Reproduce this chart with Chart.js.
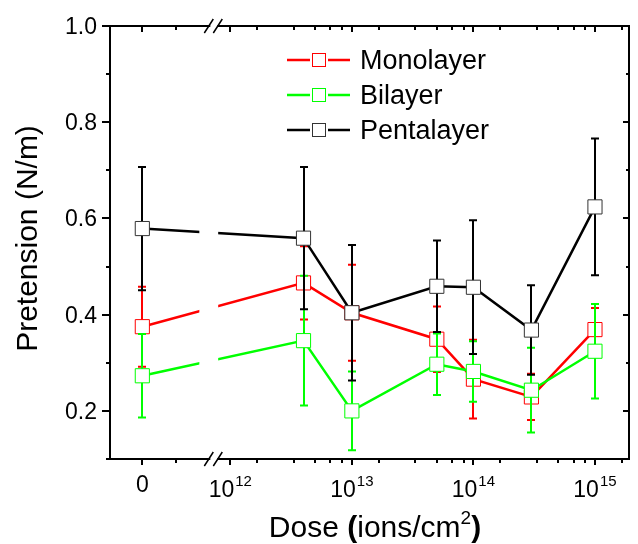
<!DOCTYPE html>
<html>
<head>
<meta charset="utf-8">
<script src="https://cdn.jsdelivr.net/npm/chart.js@4.4.1/dist/chart.umd.min.js"></script>
<style>
  html, body { margin: 0; padding: 0; background: #fff; overflow: hidden; }
  #wrap { position: relative; width: 640px; height: 544px; }
</style>
</head>
<body>
<div id="wrap"><canvas id="chart" width="640" height="544"></canvas></div>
<script>
// Pretension vs ion dose for three graphene stacks, Origin-style broken x axis:
//   a short linear stub holding dose 0, a "//" break, then log10 from 1e12.

const doses = [0, 4e12, 1e13, 5e13, 1e14, 3e14, 1e15];

const seriesNames = ['Monolayer', 'Bilayer', 'Pentalayer'];
const seriesColours = ['#ff0000', '#00ff00', '#000000'];
const markerEdges = ['#ff0000', '#00ff00', '#333333'];

const monolayer    = [0.375, 0.466, 0.404, 0.349, 0.266, 0.229, 0.369];
const monolayerErr = [0.083, 0.076, 0.100, 0.068, 0.082, 0.048, 0.045];
const bilayer      = [0.273, 0.346, 0.200, 0.297, 0.282, 0.243, 0.324];
const bilayerErr   = [0.087, 0.135, 0.082, 0.064, 0.063, 0.088, 0.098];
const pentalayer    = [0.579, 0.559, 0.404, 0.459, 0.457, 0.368, 0.624];
const pentalayerErr = [0.128, 0.148, 0.141, 0.095, 0.139, 0.093, 0.142];

const yMajorTicks = [0.2, 0.4, 0.6, 0.8, 1.0];
const yTickLabels = ['0.2', '0.4', '0.6', '0.8', '1.0'];
const yMinorTicks = [0.1, 0.3, 0.5, 0.7, 0.9];
const xDecades = [12, 13, 14, 15];
const xMinorMults = [1.667, 3.333, 5, 6.667, 8.333]; // Origin's log minor ticks

const values = [monolayer, bilayer, pentalayer];
const errors = [monolayerErr, bilayerErr, pentalayerErr];

// x axis works in "decades": dose 0 is parked left of the break
const ZERO_AT = 11.276;
const X_MIN = 11.01, X_MAX = 15.28;
const BREAK_AT = 11.86;
const GAP_L = 11.745, GAP_R = 11.90;
const toAxis = d => (d === 0 ? ZERO_AT : Math.log10(d));

const FONT = '"Liberation Sans", Arial, sans-serif';

function drawErrorBars(chart, i) {
  const { ctx, scales: { x, y } } = chart;
  ctx.save();
  ctx.strokeStyle = seriesColours[i];
  ctx.lineWidth = 2;
  doses.forEach((d, j) => {
    const px = Math.round(x.getPixelForValue(toAxis(d)));
    const top = y.getPixelForValue(values[i][j] + errors[i][j]);
    const bot = y.getPixelForValue(values[i][j] - errors[i][j]);
    ctx.beginPath();
    ctx.moveTo(px, top); ctx.lineTo(px, bot);
    ctx.moveTo(px - 4, top); ctx.lineTo(px + 4, top);
    ctx.moveTo(px - 4, bot); ctx.lineTo(px + 4, bot);
    ctx.stroke();
  });
  ctx.restore();
}

function drawFrame(chart) {
  const { ctx, chartArea: { left: L, right: R, top: T, bottom: B }, scales: { x, y } } = chart;
  ctx.save();

  // blank band where the axis is broken
  const gl = x.getPixelForValue(GAP_L), gr = x.getPixelForValue(GAP_R);
  ctx.fillStyle = '#fff';
  ctx.fillRect(gl, T + 2, gr - gl, B - T - 4);

  const bx = x.getPixelForValue(BREAK_AT);
  ctx.strokeStyle = '#000';
  ctx.lineWidth = 2;
  ctx.beginPath();
  ctx.moveTo(L, T - 1); ctx.lineTo(L, B + 1);
  ctx.moveTo(R, T); ctx.lineTo(R, B);
  for (const yy of [T, B]) {
    ctx.moveTo(L - 1, yy); ctx.lineTo(bx - 3, yy);
    ctx.moveTo(bx + 4, yy); ctx.lineTo(R + 1, yy);
  }
  ctx.stroke();

  // "//" break marks
  ctx.lineWidth = 1.5;
  ctx.beginPath();
  for (const yy of [T, B]) {
    for (const off of [-4.5, 4.5]) {
      ctx.moveTo(bx + off - 4.5, yy + 7);
      ctx.lineTo(bx + off + 4.5, yy - 7);
    }
  }
  ctx.stroke();

  // ticks
  ctx.lineWidth = 2;
  ctx.beginPath();
  yMajorTicks.forEach(v => {
    const py = Math.round(y.getPixelForValue(v));
    ctx.moveTo(L - 8, py); ctx.lineTo(L, py);
    ctx.moveTo(R - 6, py); ctx.lineTo(R, py);
  });
  yMinorTicks.forEach(v => {
    const py = Math.round(y.getPixelForValue(v));
    ctx.moveTo(L - 4, py); ctx.lineTo(L, py);
    ctx.moveTo(R - 3, py); ctx.lineTo(R, py);
  });
  const xMajor = [ZERO_AT, ...xDecades];
  const xMinor = [ZERO_AT + 0.28];
  xDecades.forEach(n => xMinorMults.forEach(m => {
    const u = n + Math.log10(m);
    if (u < X_MAX) xMinor.push(u);
  }));
  xMajor.forEach(u => {
    const px = Math.round(x.getPixelForValue(u));
    ctx.moveTo(px, B); ctx.lineTo(px, B + 6);
    ctx.moveTo(px, T); ctx.lineTo(px, T + 6);
  });
  xMinor.forEach(u => {
    const px = Math.round(x.getPixelForValue(u));
    ctx.moveTo(px, B); ctx.lineTo(px, B + 4);
    ctx.moveTo(px, T); ctx.lineTo(px, T + 4);
  });
  ctx.stroke();

  // tick labels
  ctx.fillStyle = '#000';
  ctx.font = `23px ${FONT}`;
  ctx.textAlign = 'right';
  ctx.textBaseline = 'alphabetic';
  yMajorTicks.forEach((v, k) => {
    ctx.fillText(yTickLabels[k], L - 13, y.getPixelForValue(v) + 8);
  });
  ctx.textAlign = 'center';
  ctx.fillText('0', x.getPixelForValue(ZERO_AT), B + 33);
  ctx.textAlign = 'left';
  xDecades.forEach(n => {
    ctx.font = `23px ${FONT}`;
    const wBase = ctx.measureText('10').width;
    ctx.font = `15px ${FONT}`;
    const wExp = ctx.measureText(String(n)).width;
    const x0 = x.getPixelForValue(n) - (wBase + wExp + 1) / 2;
    ctx.font = `23px ${FONT}`;
    ctx.fillText('10', x0, B + 38);
    ctx.font = `15px ${FONT}`;
    ctx.fillText(String(n), x0 + wBase + 1, B + 27);
  });

  // axis titles
  ctx.save();
  ctx.translate(37, (T + B) / 2 - 4);
  ctx.rotate(-Math.PI / 2);
  ctx.textAlign = 'center';
  ctx.font = `30px ${FONT}`;
  ctx.fillText('Pretension (N/m)', 0, 0);
  ctx.restore();

  const parts = [
    { t: 'Dose ', f: `30px ${FONT}`, dy: 0 },
    { t: '(', f: `bold 30px ${FONT}`, dy: 0 },
    { t: 'ions/cm', f: `30px ${FONT}`, dy: 0 },
    { t: '2', f: `19px ${FONT}`, dy: -13 },
    { t: ')', f: `bold 30px ${FONT}`, dy: 0 },
  ];
  let total = 0;
  parts.forEach(p => { ctx.font = p.f; p.w = ctx.measureText(p.t).width; total += p.w; });
  let cx = 375 - total / 2;
  ctx.textAlign = 'left';
  parts.forEach(p => { ctx.font = p.f; ctx.fillText(p.t, cx, 537 + p.dy); cx += p.w; });

  // legend: line - square - line, then name
  const rows = [60, 95, 130];
  seriesNames.forEach((name, i) => {
    const ry = rows[i];
    ctx.strokeStyle = seriesColours[i];
    ctx.lineWidth = 2.5;
    ctx.beginPath();
    ctx.moveTo(287, ry); ctx.lineTo(310, ry);
    ctx.moveTo(328, ry); ctx.lineTo(350, ry);
    ctx.stroke();
    ctx.fillStyle = '#fff';
    ctx.fillRect(312, ry - 7, 14, 14);
    ctx.strokeStyle = markerEdges[i];
    ctx.lineWidth = 1;
    ctx.strokeRect(312.5, ry - 6.5, 13, 13);
    ctx.fillStyle = '#000';
    ctx.font = `27px ${FONT}`;
    ctx.fillText(name, 360, ry + 9);
  });

  ctx.restore();
}

const originFrame = {
  id: 'originFrame',
  beforeDatasetDraw(chart, args) { drawErrorBars(chart, args.index); },
  afterDatasetsDraw(chart) { drawFrame(chart); },
};

new Chart(document.getElementById('chart'), {
  type: 'line',
  data: {
    datasets: seriesNames.map((name, i) => ({
      label: name,
      data: doses.map((d, j) => ({ x: toAxis(d), y: values[i][j] })),
      borderColor: seriesColours[i],
      borderWidth: 2.5,
      tension: 0,
      pointStyle: 'rect',
      pointRadius: 10,
      pointBackgroundColor: '#fff',
      pointBorderColor: markerEdges[i],
      pointBorderWidth: 1,
      order: 3 - i, // Pentalayer on top
    })),
  },
  options: {
    responsive: false,
    animation: false,
    devicePixelRatio: 1,
    layout: { padding: { left: 110, top: 26, right: 1, bottom: 85 } },
    plugins: { legend: { display: false }, tooltip: { enabled: false } },
    scales: {
      x: { type: 'linear', min: X_MIN, max: X_MAX, display: false },
      y: { type: 'linear', min: 0.1, max: 1.0, display: false },
    },
  },
  plugins: [originFrame],
});
</script>
</body>
</html>
